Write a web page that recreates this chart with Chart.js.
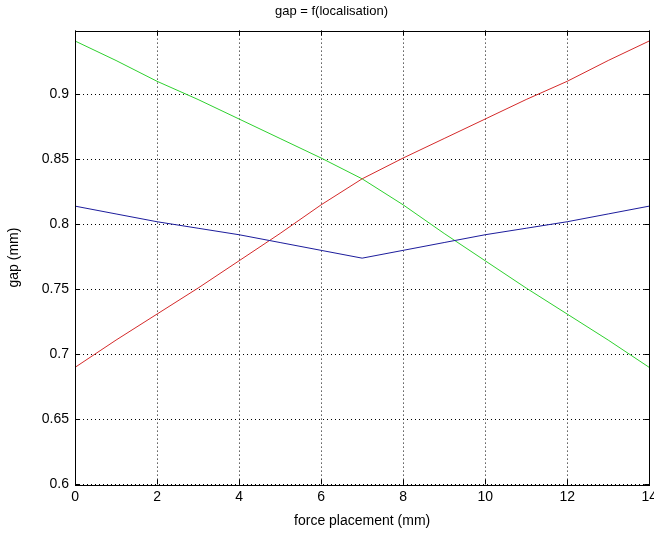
<!DOCTYPE html>
<html lang="en">
<head>
  <meta charset="UTF-8">
  <title>gap = f(localisation)</title>
  <script src="https://cdn.jsdelivr.net/npm/chart.js"></script>
  <style>
    html, body { margin: 0; padding: 0; background: #fff; overflow: hidden; }
    .frame { width: 654px; height: 533px; overflow: hidden; }
  </style>
</head>
<body>
  <!-- canvas is a bit wider than the window so the last x label gets cut like the original -->
  <div class="frame"><canvas id="gapChart" width="661" height="533"></canvas></div>

  <script>
    // force placement (mm)
    const placement = [0, 1, 2, 3, 4, 5, 6, 7, 8, 9, 10, 11, 12, 13, 14];
    // gap (mm) for the three curves
    const gapBlue  = [0.814, 0.808, 0.802, 0.797, 0.792, 0.786, 0.780, 0.774, 0.780, 0.786, 0.792, 0.797, 0.802, 0.808, 0.814];
    const gapRed   = [0.690, 0.711, 0.731, 0.751, 0.772, 0.793, 0.815, 0.835, 0.851, 0.866, 0.881, 0.896, 0.910, 0.926, 0.941];
    const gapGreen = [0.941, 0.926, 0.910, 0.896, 0.881, 0.866, 0.851, 0.835, 0.815, 0.793, 0.772, 0.751, 0.731, 0.711, 0.690];

    const xRange = [0, 14];
    const yRange = [0.6, 0.949];
    const lastYLabel = 0.9;

    const font = { family: "'Liberation Sans', Arial, sans-serif", size: 14 };

    function toPoints(values) {
      return placement.map((p, i) => ({ x: p, y: values[i] }));
    }

    // matlab style box with small inward ticks on all four sides
    const matlabBox = {
      id: 'matlabBox',
      afterDatasetsDraw(chart) {
        const { ctx, chartArea: a, scales } = chart;
        const len = 5;
        ctx.save();
        ctx.strokeStyle = '#000';
        ctx.lineWidth = 1;
        ctx.beginPath();
        scales.x.ticks.forEach(t => {
          const px = Math.round(scales.x.getPixelForValue(t.value)) + 0.5;
          ctx.moveTo(px, a.bottom); ctx.lineTo(px, a.bottom - len);
          ctx.moveTo(px, a.top); ctx.lineTo(px, a.top + len);
        });
        scales.y.ticks.forEach(t => {
          const py = Math.round(scales.y.getPixelForValue(t.value)) + 0.5;
          ctx.moveTo(a.left, py); ctx.lineTo(a.left + len, py);
          ctx.moveTo(a.right, py); ctx.lineTo(a.right - len, py);
        });
        ctx.stroke();
        ctx.strokeRect(Math.round(a.left) + 0.5, Math.round(a.top) + 0.5,
          Math.round(a.right - a.left), Math.round(a.bottom - a.top));
        ctx.restore();
      }
    };

    const line = (values, color) => ({
      data: toPoints(values),
      borderColor: color,
      borderWidth: 1,
      pointRadius: 0,
      tension: 0,
      fill: false
    });

    new Chart(document.getElementById('gapChart'), {
      type: 'line',
      data: {
        datasets: [
          line(gapBlue, '#1c1c9c'),
          line(gapRed, '#d42a2a'),
          line(gapGreen, '#2ed02e')
        ]
      },
      options: {
        responsive: false,
        animation: false,
        layout: { padding: { left: 2, right: 0, top: 0, bottom: 3 } },
        plugins: {
          legend: { display: false },
          tooltip: { enabled: false },
          title: {
            display: true,
            text: 'gap = f(localisation)',
            color: '#000',
            font: { family: font.family, size: 13, weight: 'normal' },
            padding: { top: 4, bottom: 11 }
          }
        },
        scales: {
          x: {
            type: 'linear',
            min: xRange[0],
            max: xRange[1],
            ticks: { stepSize: 2, color: '#000', font: font, padding: 4, maxRotation: 0 },
            grid: { color: '#000', drawTicks: false, lineWidth: 1 },
            border: { display: false, dash: [1, 3] },
            title: { display: true, text: 'force placement (mm)', color: '#000', font: font, padding: { top: 4, bottom: 0 } }
          },
          y: {
            min: yRange[0],
            max: yRange[1],
            ticks: {
              stepSize: 0.05,
              includeBounds: false,
              color: '#000',
              font: font,
              padding: 6,
              callback: v => v > lastYLabel + 1e-9 ? '' : String(Number(v.toFixed(2)))
            },
            grid: { color: '#000', drawTicks: false, lineWidth: 1 },
            border: { display: false, dash: [1, 3] },
            title: { display: true, text: 'gap (mm)', color: '#000', font: font, padding: { top: 4, bottom: 13 } }
          }
        }
      },
      plugins: [matlabBox]
    });
  </script>
</body>
</html>
